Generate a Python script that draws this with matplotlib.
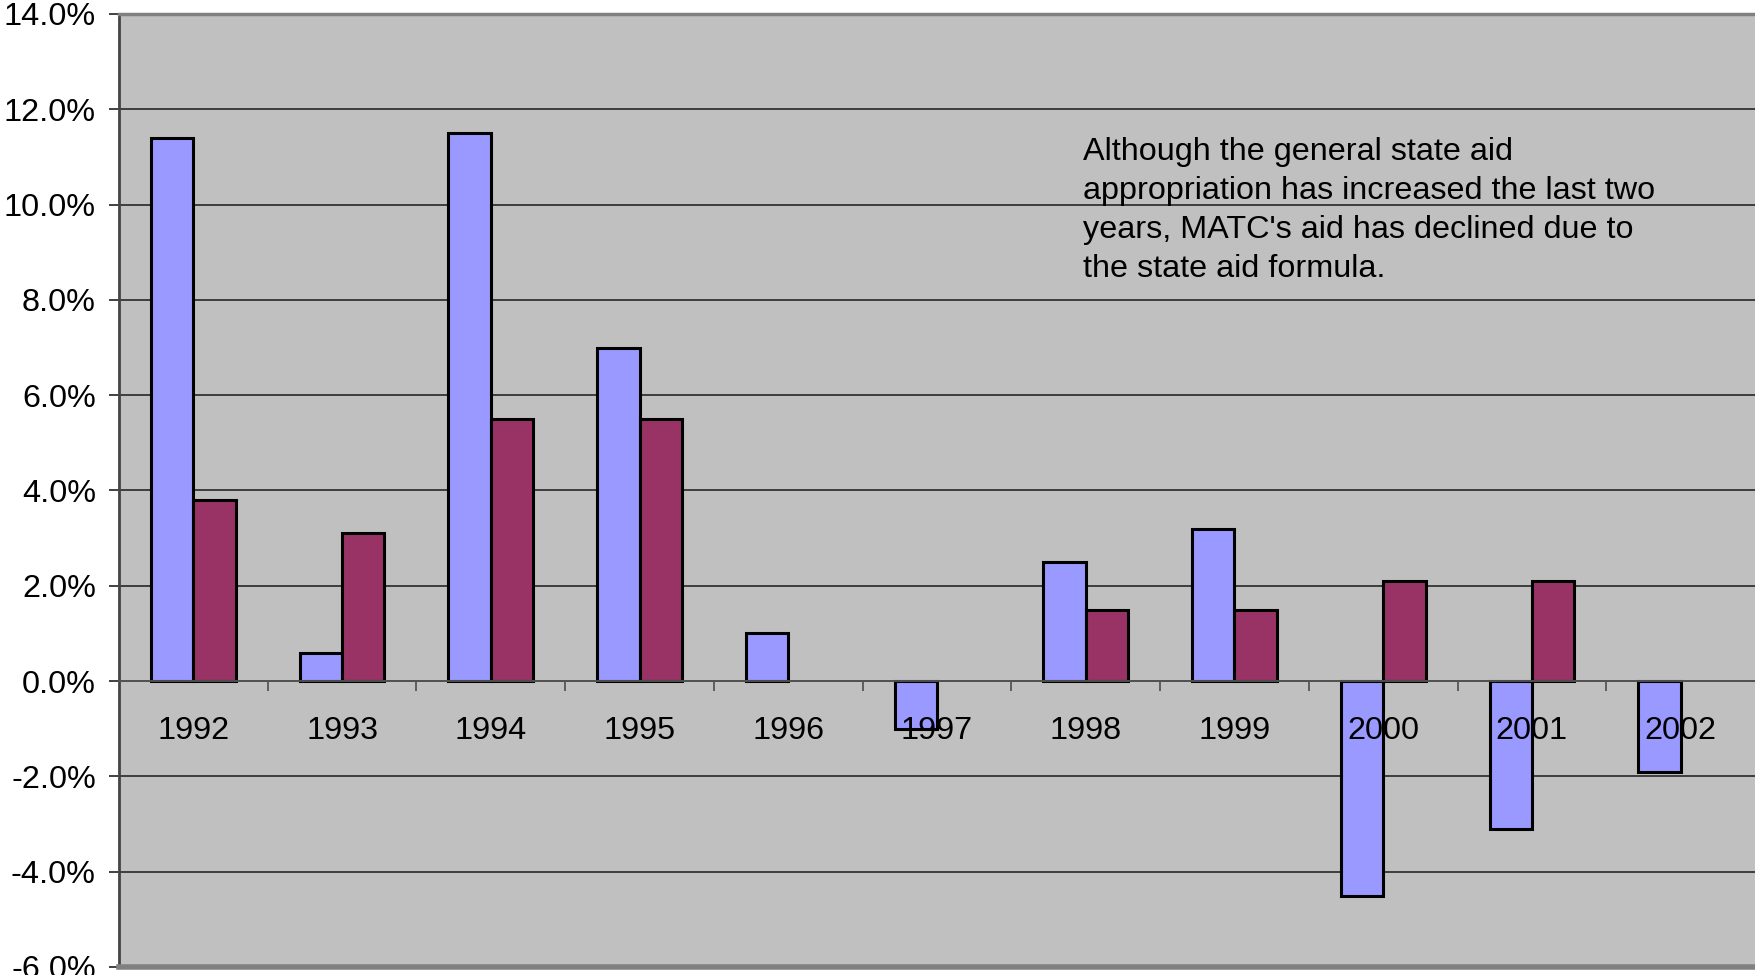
import matplotlib
matplotlib.use("Agg")
import matplotlib.pyplot as plt
import numpy as np

years = ["1992", "1993", "1994", "1995", "1996", "1997",
         "1998", "1999", "2000", "2001", "2002"]
matc_aid = [11.4, 0.6, 11.5, 7.0, 1.0, -1.0, 2.5, 3.2, -4.5, -3.1, -1.9]
# no state-aid change reported for 1996, 1997 and 2002
state_aid = [3.8, 3.1, 5.5, 5.5, None, None, 1.5, 1.5, 2.1, 2.1, None]
y_ticks = [-6, -4, -2, 0, 2, 4, 6, 8, 10, 12, 14]
note = ("Although the general state aid\n"
        "appropriation has increased the last two\n"
        "years, MATC's aid has declined due to\n"
        "the state aid formula.")

plt.rcParams["font.family"] = ["Liberation Sans", "DejaVu Sans"]
FS = 23.3

fig = plt.figure(figsize=(17.55, 9.75), dpi=100)
fig.patch.set_facecolor("white")
ax = fig.add_axes([119 / 1755, 8 / 975, 1636 / 1755, 953 / 975])
ax.set_facecolor("#C0C0C0")

x = np.arange(len(years))
w = 0.285
ax.bar(x - w / 2, matc_aid, width=w, color="#9999FF",
       edgecolor="black", linewidth=2.2, zorder=1)
sx = [xi for xi, v in zip(x, state_aid) if v is not None]
sv = [v for v in state_aid if v is not None]
ax.bar(np.array(sx) + w / 2, sv, width=w, color="#993366",
       edgecolor="black", linewidth=2.2, zorder=1)

ax.set_xlim(-0.5, len(years) - 0.5)
ax.set_ylim(y_ticks[0], y_ticks[-1])

# horizontal gridlines behind the bars
ax.set_yticks(y_ticks)
for t in y_ticks[1:-1]:
    ax.axhline(t, color="#333333", linewidth=1.3, zorder=0.5)
ax.axhline(y_ticks[0], color="#808080", linewidth=4, zorder=3, clip_on=False)
ax.set_yticklabels([f"{t:.1f}%" for t in y_ticks], fontsize=FS)
ax.tick_params(axis="y", direction="out", length=7.2, width=1.3,
               color="#333333", pad=9.5)

# category axis crossing at zero
ax.spines["bottom"].set_position(("data", 0))
ax.spines["bottom"].set_color("#555555")
ax.spines["bottom"].set_linewidth(1.3)
ax.spines["right"].set_visible(False)
ax.spines["top"].set_color("#808080")
ax.spines["top"].set_linewidth(2.5)
ax.spines["left"].set_color("#444444")
ax.spines["left"].set_linewidth(2)

ax.set_xticks(x[:-1] + 0.5)
ax.set_xticklabels([])
ax.tick_params(axis="x", which="major", direction="out", length=7.2,
               width=1.3, color="#555555")
ax.set_xticks(x, minor=True)
ax.set_xticklabels(years, minor=True, fontsize=FS)
ax.tick_params(axis="x", which="minor", length=0, pad=25)
for lbl in ax.get_xticklabels(minor=True):
    lbl.set_zorder(5)

ax.text(0.589, 0.871, note, transform=ax.transAxes, fontsize=FS,
        ha="left", va="top", linespacing=1.39, zorder=6)

fig.savefig("out.png", dpi=100, facecolor="white")
